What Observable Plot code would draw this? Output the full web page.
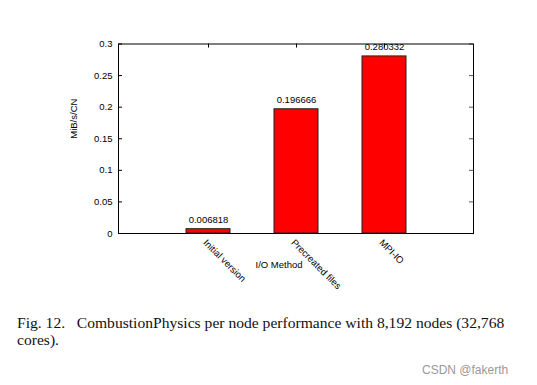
<!DOCTYPE html>
<html>
<head>
<meta charset="utf-8">
<script src="https://cdn.jsdelivr.net/npm/d3@7"></script>
<script src="https://cdn.jsdelivr.net/npm/@observablehq/plot@0.6"></script>
<style>
  html, body { margin: 0; padding: 0; background: #fff; }
  #wrap { position: relative; width: 537px; height: 385px; overflow: hidden; }
  #caption { position: absolute; left: 17px; top: 314px; font-family: "Liberation Serif", serif; font-size: 15.6px; line-height: 17px; color: #111; white-space: nowrap; }
  #mark { position: absolute; left: 422px; top: 363px; font-family: "Liberation Sans", sans-serif; font-size: 12px; color: #999; }
</style>
</head>
<body>
<div id="wrap">
  <div id="chart"></div>
  <div id="caption">Fig. 12.&nbsp;&nbsp;&nbsp;CombustionPhysics per node performance with 8,192 nodes (32,768<br>cores).</div>
  <div id="mark">CSDN @fakerth</div>
</div>
<script>
const categories = ["Initial version", "Precreated files", "MPI-IO"];
const values = [0.006818, 0.196666, 0.280332];
const valueLabels = ["0.006818", "0.196666", "0.280332"];
const yTicks = [0, 0.05, 0.1, 0.15, 0.2, 0.25, 0.3];
const yTickLabels = ["0", "0.05", "0.1", "0.15", "0.2", "0.25", "0.3"];

const data = categories.map((c, i) => ({cat: c, value: values[i], label: valueLabels[i]}));

const W = 537, H = 300;
const mL = 118, mR = 64, mT = 43.5, mB = 67;
const pw = W - mL - mR, ph = H - mT - mB;
const font = "Liberation Sans, Arial, sans-serif";

const chart = Plot.plot({
  width: W,
  height: H,
  marginLeft: mL,
  marginRight: mR,
  marginTop: mT,
  marginBottom: mB,
  style: {fontFamily: font, fontSize: "9.5px", color: "#000", background: "#fff"},
  x: {type: "band", domain: categories, paddingInner: 0.5, paddingOuter: 0.75, axis: null},
  y: {domain: [0, 0.3], axis: null},
  marks: [
    Plot.barY(data, {x: "cat", y: "value", fill: "#ff0000", stroke: "#222", strokeWidth: 1}),
    Plot.text(data, {x: "cat", y: "value", text: "label", dy: -9, fill: "#000", fontSize: 9.5}),
    Plot.text(yTicks, {y: d => d, text: (d, i) => yTickLabels[i], frameAnchor: "left", textAnchor: "end", dx: -6, fill: "#000"}),
    Plot.ruleY(yTicks, {y: d => d, insetRight: pw - 4, stroke: "#000"}),
    Plot.ruleY(yTicks, {y: d => d, insetLeft: pw - 4, stroke: "#555"}),
    Plot.ruleX(categories, {x: d => d, insetBottom: ph - 4, stroke: "#000"}),
    Plot.text(categories, {x: d => d, frameAnchor: "bottom", rotate: 45, textAnchor: "start", lineAnchor: "top", dy: 5, dx: -1, fill: "#000"}),
    Plot.text(["I/O Method"], {frameAnchor: "bottom", dx: -17, dy: 34, fill: "#000"}),
    Plot.text(["MiB/s/CN"], {frameAnchor: "left", rotate: -90, dx: -45, fill: "#000"}),
    Plot.frame({stroke: "#000", strokeWidth: 1})
  ]
});
document.getElementById("chart").appendChild(chart);
</script>
</body>
</html>
